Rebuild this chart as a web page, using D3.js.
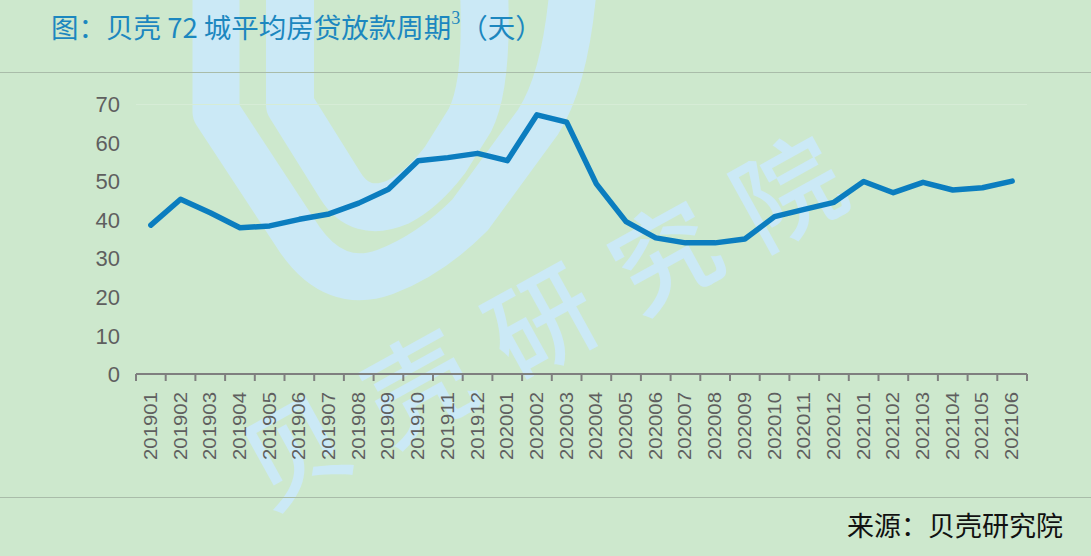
<!DOCTYPE html>
<html><head><meta charset="utf-8">
<script src="https://cdn.jsdelivr.net/npm/d3@7"></script>
<style>
html,body{margin:0;padding:0;background:#cde8cd;}
svg{display:block;}
</style></head>
<body>
<svg id="chart" width="1091" height="556"></svg>
<script>
const categories = ["201901","201902","201903","201904","201905","201906","201907","201908","201909","201910","201911","201912",
"202001","202002","202003","202004","202005","202006","202007","202008","202009","202010","202011","202012",
"202101","202102","202103","202104","202105","202106"];
const values = [38.6,45.3,41.8,37.9,38.4,40.1,41.5,44.3,47.9,55.3,56.1,57.2,
55.3,67.2,65.3,49.3,39.5,35.3,34.0,34.0,35.0,40.8,42.7,44.5,
49.9,47.0,49.7,47.7,48.3,50.0];
const yTicks = [0,10,20,30,40,50,60,70];
const titleMain = "图：贝壳 72 城平均房贷放款周期";
const titleSup = "3";
const titleTail = "（天）";
const sourceText = "来源：贝壳研究院";
const watermarkText = "贝壳研究院";

const svg = d3.select("#chart");
const W = 1091, H = 556;
svg.append("rect").attr("width",W).attr("height",H).attr("fill","#cde8cd");

// watermark logo
const wm = svg.append("g").attr("fill","none").attr("stroke","#cbe9f6").attr("stroke-linejoin","round");
wm.append("path").attr("stroke-width",47)
  .attr("d","M216,-10 L216,112 L300,240 Q335,290 385,272 Q430,255 470,215 L538,122 Q565,80 573,-10");
wm.append("path").attr("stroke-width",48)
  .attr("d","M290,-10 L290,105 L340,185 Q360,218 398,202 Q422,190 445,160 L470,120 Q488,85 484,-10");
// watermark text, one glyph per element along a diagonal
const wmChars = Array.from(watermarkText);
const wmStart = [292,446], wmEnd = [785,186];
svg.append("g").selectAll("text").data(wmChars).enter().append("text")
  .attr("transform",(d,i)=>{
    const t = i/(wmChars.length-1);
    const px = wmStart[0]+(wmEnd[0]-wmStart[0])*t, py = wmStart[1]+(wmEnd[1]-wmStart[1])*t;
    return `translate(${px},${py}) rotate(-29)`;})
  .attr("text-anchor","middle").attr("dominant-baseline","central")
  .attr("font-family","Noto Sans CJK SC").attr("font-size",106).attr("font-weight",500)
  .attr("fill","#cbe9f6").text(d=>d);

// separators
svg.append("line").attr("x1",0).attr("x2",W).attr("y1",72.5).attr("y2",72.5).attr("stroke","#a9bca9").attr("stroke-width",1);
svg.append("line").attr("x1",0).attr("x2",W).attr("y1",497.5).attr("y2",497.5).attr("stroke","#a9bca9").attr("stroke-width",1);

// title
const title = svg.append("text").attr("x",51).attr("y",38)
  .attr("font-family","Noto Sans CJK SC").attr("font-size",27.5).attr("fill","#1c87bf");
title.append("tspan").text(titleMain);
title.append("tspan").attr("font-size",18).attr("font-family","Liberation Serif").attr("dy",-14).text(titleSup);
title.append("tspan").attr("dy",14).text(titleTail);

// source
svg.append("text").attr("x",1063).attr("y",536).attr("text-anchor","end")
  .attr("font-family","Noto Sans CJK SC").attr("font-size",27).attr("fill","#111").text(sourceText);

// scales
const x = d3.scaleBand().domain(categories).range([136,1027]).paddingInner(0).paddingOuter(0);
const y = d3.scaleLinear().domain([0,70]).range([374,104]);

// faint top gridline
svg.append("line").attr("x1",136).attr("x2",1027).attr("y1",y(70)+0.5).attr("y2",y(70)+0.5)
  .attr("stroke","#d6ecd6").attr("stroke-width",1);

// y labels
const yAxis = d3.axisLeft(y).tickValues(yTicks).tickSize(0).tickPadding(0);
const gy = svg.append("g").attr("transform","translate(120,0)").call(yAxis);
gy.select(".domain").remove();
gy.selectAll("text").attr("font-family","Liberation Sans").attr("font-size",22).attr("fill","#5f5f5f").attr("dy","0.35em");

// x axis
const xAxis = d3.axisBottom(x).tickSize(0);
const gx = svg.append("g").attr("transform","translate(0,374)").call(xAxis);
gx.select(".domain").attr("stroke","#7f7f7f").attr("stroke-width",2).attr("d","M136,0H1027");
gx.selectAll(".tick line").remove();
gx.selectAll("text")
  .attr("font-family","Liberation Sans").attr("font-size",18).attr("fill","#5f5f5f")
  .attr("text-anchor","end").attr("dy",0).attr("y",0)
  .attr("transform","translate(6,18) rotate(-90)")
  .attr("textLength",68).attr("lengthAdjust","spacingAndGlyphs");
// boundary ticks
const bounds = categories.map(c=>x(c)).concat([x(categories[categories.length-1])+x.bandwidth()]);
gx.selectAll(".btick").data(bounds).enter().append("line")
  .attr("x1",d=>d).attr("x2",d=>d).attr("y1",0).attr("y2",7)
  .attr("stroke","#7f7f7f").attr("stroke-width",2);

// line
const line = d3.line().x((d,i)=>x(categories[i])+x.bandwidth()/2).y(d=>y(d));
svg.append("path").datum(values).attr("d",line).attr("fill","none")
  .attr("stroke","#0b7dbf").attr("stroke-width",5.5).attr("stroke-linejoin","round").attr("stroke-linecap","round");
</script>
</body></html>
